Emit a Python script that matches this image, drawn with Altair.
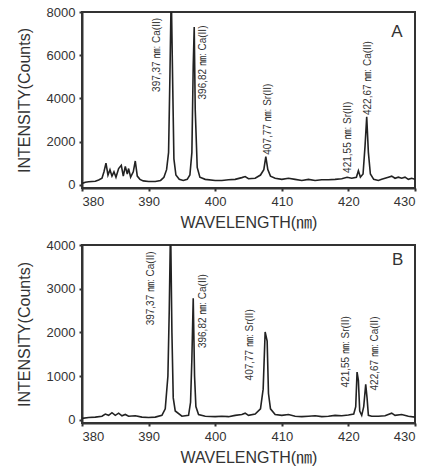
import altair as alt
import pandas as pd

# ---------------- data ----------------
wl_a = [380.0, 380.5, 381.0, 381.5, 382.0, 382.5, 383.0, 383.3, 383.6, 383.9, 384.2, 384.5, 384.8,
        385.1, 385.5, 385.9, 386.2, 386.5, 386.8, 387.0, 387.3, 387.7, 388.0, 388.3, 388.7, 389.2,
        390.0, 391.0, 391.8, 392.3, 392.7, 393.0, 393.2, 393.4, 393.6, 393.8, 394.1, 394.6, 395.2,
        395.8, 396.2, 396.5, 396.7, 396.85, 397.0, 397.3, 397.7, 398.5, 400.0, 401.0, 402.0, 403.0,
        404.0, 404.5, 405.0, 406.0, 406.8, 407.3, 407.6, 407.9, 408.3, 409.0, 410.0, 411.0, 412.0,
        413.0, 414.0, 415.0, 416.0, 417.0, 418.0, 419.0, 419.8, 420.5, 421.2, 421.5, 421.8, 422.2,
        422.5, 422.75, 423.0, 423.3, 423.8, 424.5, 425.0, 426.0, 426.5, 427.0, 427.5, 428.0, 428.5,
        429.0, 429.5, 430.0]
int_a = [60, 120, 140, 150, 160, 220, 300, 600, 1000, 450, 700, 400, 600,
         350, 750, 900, 400, 850, 500, 750, 350, 600, 1100, 400, 250, 180,
         150, 150, 200, 350, 700, 1500, 5000, 9000, 5000, 1200, 450, 250, 200,
         250, 450, 1500, 5500, 7300, 3500, 800, 350, 250, 200, 200, 230, 250,
         330, 380, 280, 300, 450, 700, 1300, 700, 400, 300, 250, 300, 250,
         200, 250, 200, 230, 230, 250, 280, 350, 300, 350, 650, 350, 500,
         1800, 3150, 1500, 500, 250, 200, 250, 350, 400, 300, 350, 300, 350,
         250, 300, 250]

wl_b = [380.0, 381.0, 382.0, 383.0, 383.5, 384.0, 384.5, 385.0, 385.5, 386.0, 386.5, 387.0, 388.0,
        389.0, 390.0, 391.0, 392.0, 392.5, 392.9, 393.1, 393.3, 393.5, 393.7, 394.0, 395.0, 396.0,
        396.3, 396.5, 396.7, 396.9, 397.1, 397.5, 398.5, 400.0, 401.0, 402.0, 403.0, 404.0, 404.5,
        405.0, 406.0, 406.8, 407.2, 407.5, 407.8, 408.0, 408.3, 409.0, 410.0, 411.0, 412.0, 413.0,
        414.0, 415.0, 416.0, 417.0, 418.0, 419.0, 420.0, 420.8, 421.1, 421.3, 421.5, 421.7, 422.0,
        422.3, 422.6, 422.8, 423.0, 423.5, 424.5, 425.5, 426.5, 427.0, 428.0, 429.0, 430.0]
int_b = [30, 50, 60, 80, 130, 100, 160, 100, 150, 90, 120, 80, 90,
         60, 50, 60, 100, 250, 1000, 2500, 4500, 2000, 500, 200, 80, 100,
         400, 1400, 2780, 1000, 300, 120, 80, 70, 80, 70, 100, 120, 150,
         100, 130, 250, 700, 2010, 1800, 600, 250, 120, 100, 120, 80, 70,
         80, 90, 70, 80, 100, 90, 110, 130, 300, 1090, 900, 200, 100,
         300, 810, 500, 100, 80, 80, 90, 150, 100, 120, 80, 60]

lab_text = ["397,37 ㎚: Ca(II)", "396,82 ㎚: Ca(II)", "407,77 ㎚: Sr(II)",
            "421,55 ㎚: Sr(II)", "422,67 ㎚: Ca(II)"]
lab_x_a = [391.3, 398.2, 407.9, 419.9, 422.9]
lab_y_a = [4300, 3950, 1390, 550, 3230]
lab_x_b = [390.4, 398.2, 405.2, 419.6, 424.0]
lab_y_b = [2160, 1640, 900, 740, 670]

panel_names = ["A", "B"]
panel_x = [427.3, 427.4]
panel_y = [7070, 3654]

x_ticks = [380, 385, 390, 395, 400, 405, 410, 415, 420, 425, 430]
y_ticks_a = [0, 1000, 2000, 3000, 4000, 5000, 6000, 7000, 8000]
y_ticks_b = [0, 500, 1000, 1500, 2000, 2500, 3000, 3500, 4000]

FONT = "Liberation Sans, Noto Sans CJK KR"
INK = "#222222"


def panel(wl, inten, lx, ly, name, px, py, ymin, ymax, yticks, ymajor, h):
    spec = pd.DataFrame({"wl": wl, "i": inten})
    labs = pd.DataFrame({"x": lx, "y": ly, "t": lab_text})
    tag = pd.DataFrame({"x": [px], "y": [py], "t": [name]})
    xs = alt.Scale(domain=[380, 430], nice=False, zero=False)
    ys = alt.Scale(domain=[ymin, ymax], nice=False, zero=False)
    xax = alt.Axis(values=x_ticks, format="d",
                   labelExpr="datum.value % 10 == 0 ? datum.label : ''",
                   title="WAVELENGTH(㎚)", grid=False)
    yax = alt.Axis(values=yticks, format="d",
                   labelExpr=f"datum.value % {ymajor} == 0 ? datum.label : ''",
                   title="INTENSITY(Counts)", grid=False)
    line = alt.Chart(spec).mark_line(color=INK, strokeWidth=1.6, clip=True).encode(
        x=alt.X("wl:Q", scale=xs, axis=xax),
        y=alt.Y("i:Q", scale=ys, axis=yax),
    )
    txt = alt.Chart(labs).mark_text(angle=270, align="left", baseline="middle",
                                    fontSize=10, font=FONT, color="#333333").encode(
        x=alt.X("x:Q", scale=xs), y=alt.Y("y:Q", scale=ys), text="t:N")
    lett = alt.Chart(tag).mark_text(fontSize=17, font=FONT, color="#333333",
                                    align="center", baseline="middle").encode(
        x=alt.X("x:Q", scale=xs), y=alt.Y("y:Q", scale=ys), text="t:N")
    return alt.layer(line, txt, lett).properties(width=333, height=h)


pa = panel(wl_a, int_a, lab_x_a, lab_y_a, panel_names[0], panel_x[0], panel_y[0],
           -150, 8000, y_ticks_a, 2000, 176)
pb = panel(wl_b, int_b, lab_x_b, lab_y_b, panel_names[1], panel_x[1], panel_y[1],
           -75, 4000, y_ticks_b, 1000, 178)

chart = alt.vconcat(pa, pb, spacing=7).properties(
    padding={"left": 15, "top": 5, "right": 2, "bottom": 2}
).configure_view(stroke="#333333", strokeWidth=2).configure_axis(
    domainColor="#333333", domainWidth=2, tickColor="#333333", tickSize=3, tickWidth=2,
    labelFont=FONT, labelFontSize=13, labelColor="#333333", labelPadding=4,
    titleFont=FONT, titleFontSize=16, titleFontWeight="normal", titleColor="#333333",
).configure_axisY(titlePadding=14).configure_axisX(titlePadding=6)

chart.save("out.html", embed_options={"renderer": "svg", "actions": False})
